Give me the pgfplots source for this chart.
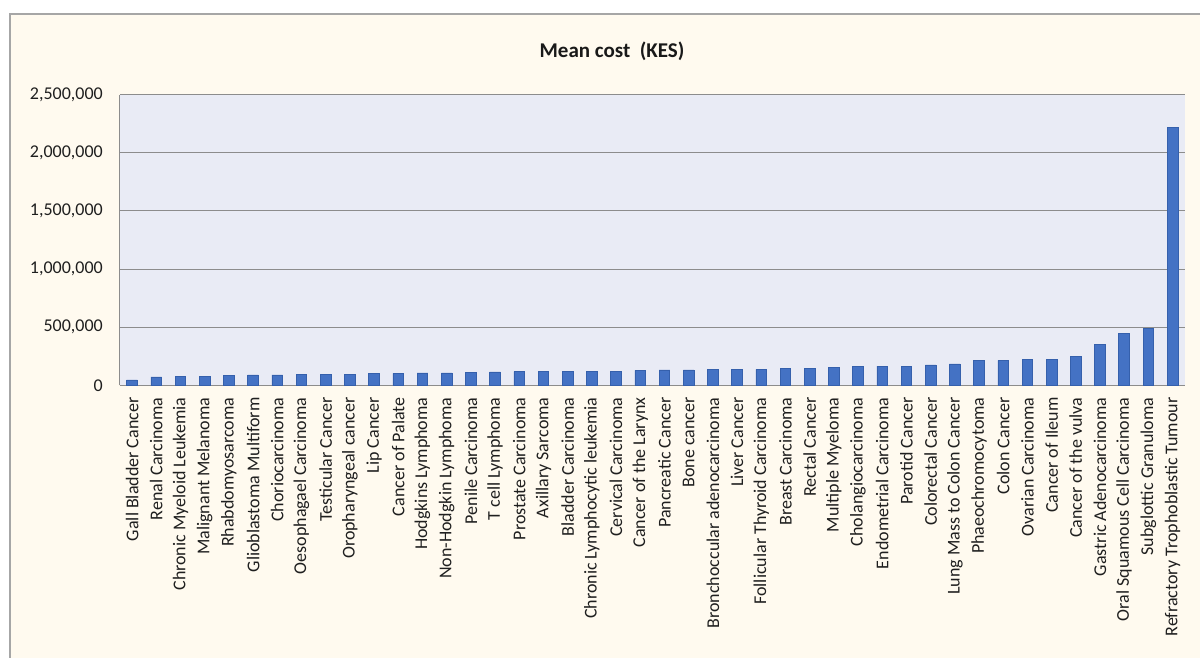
\documentclass[border=0pt]{standalone}
\usepackage{pgfplots}
\pgfplotsset{compat=1.18}
\usepackage{pgfplotstable}
\usepackage{fontspec}
\setmainfont{Carlito}

\definecolor{chartbg}{HTML}{FFFAEF}
\definecolor{plotbg}{HTML}{E9EBF5}
\definecolor{barblue}{HTML}{4472C4}
\definecolor{baredge}{HTML}{3560AC}
\definecolor{gridgray}{HTML}{8C8C8C}
\definecolor{framegray}{HTML}{A6A6A6}

% Mean cost per cancer type (KES), sorted ascending
\pgfplotstableread{
idx cost
0  46000
1  72000
2  75000
3  80000
4  86000
5  89000
6  89000
7  95000
8  95000
9  95000
10 103000
11 103000
12 106000
13 106000
14 112000
15 115000
16 118000
17 118000
18 123000
19 123000
20 123000
21 129000
22 132000
23 132000
24 135000
25 138000
26 138000
27 143000
28 146000
29 152000
30 161000
31 166000
32 166000
33 175000
34 184000
35 212000
36 215000
37 224000
38 224000
39 252000
40 355000
41 444000
42 487000
43 2222000
}\costdata

\begin{document}
\begin{tikzpicture}
\useasboundingbox (-120pt,-271.7pt) rectangle (1080pt,385.3pt);
\fill[white] (-120pt,-271.7pt) rectangle (1080pt,385.3pt);
\fill[chartbg] (-110pt,-290pt) rectangle (1100pt,371.3pt);
\draw[framegray, line width=1.3pt] (-110pt,-290pt) -- (-110pt,371.3pt) -- (1100pt,371.3pt);

\begin{axis}[
  at={(0pt,0pt)}, anchor=south west,
  scale only axis, width=1064.7pt, height=290.6pt,
  xmin=-0.5, xmax=43.5, ymin=0, ymax=2500000,
  ytick={0,500000,1000000,1500000,2000000,2500000},
  xtick={0,...,43},
  xticklabels={Gall Bladder Cancer, Renal Carcinoma, Chronic Myeloid Leukemia,
    Malignant Melanoma, Rhabdomyosarcoma, Glioblastoma Multiform, Choriocarcinoma,
    Oesophagael Carcinoma, Testicular Cancer, Oropharyngeal cancer, Lip Cancer,
    Cancer of Palate, Hodgkins Lymphoma, Non-Hodgkin Lymphoma, Penile Carcinoma,
    T cell Lymphoma, Prostate Carcinoma, Axillary Sarcoma, Bladder Carcinoma,
    Chronic Lymphocytic leukemia, Cervical Carcinoma, Cancer of the Larynx,
    Pancreatic Cancer, Bone cancer, Bronchoccular adenocarcinoma, Liver Cancer,
    Follicular Thyroid Carcinoma, Breast Carcinoma, Rectal Cancer, Multiple Myeloma,
    Cholangiocarcinoma, Endometrial Carcinoma, Parotid Cancer, Colorectal Cancer,
    Lung Mass to Colon Cancer, Phaeochromocytoma, Colon Cancer, Ovarian Carcinoma,
    Cancer of Ileum, Cancer of the vulva, Gastric Adenocarcinoma,
    Oral Squamous Cell Carcinoma, Subglottic Granuloma, Refractory Trophoblastic Tumour},
  axis background/.style={fill=plotbg},
  ymajorgrids, grid style={gridgray, line width=1pt},
  axis x line=bottom, axis y line=left,
  axis line style={-, draw=gridgray, line width=1pt},
  major tick length=0pt,
  scaled y ticks=false,
  yticklabel style={/pgf/number format/fixed, /pgf/number format/1000 sep={,}},
  /pgf/number format/assume math mode=true,
  tick label style={font=\fontsize{18}{21}\selectfont, text=black!88},
  xticklabel style={rotate=90, anchor=east, inner sep=0pt},
  yticklabel style={anchor=east, inner sep=0pt},
  xticklabel shift=12pt, yticklabel shift=17pt,
  ybar, bar width=10.7pt,
]
\addplot[fill=barblue, draw=baredge, line width=0.7pt] table[x=idx, y=cost] {\costdata};
\end{axis}

\node[font=\bfseries\fontsize{21}{24}\selectfont, text=black!90] at (492pt,334.5pt) {Mean cost\ \ (KES)};
\end{tikzpicture}
\end{document}
